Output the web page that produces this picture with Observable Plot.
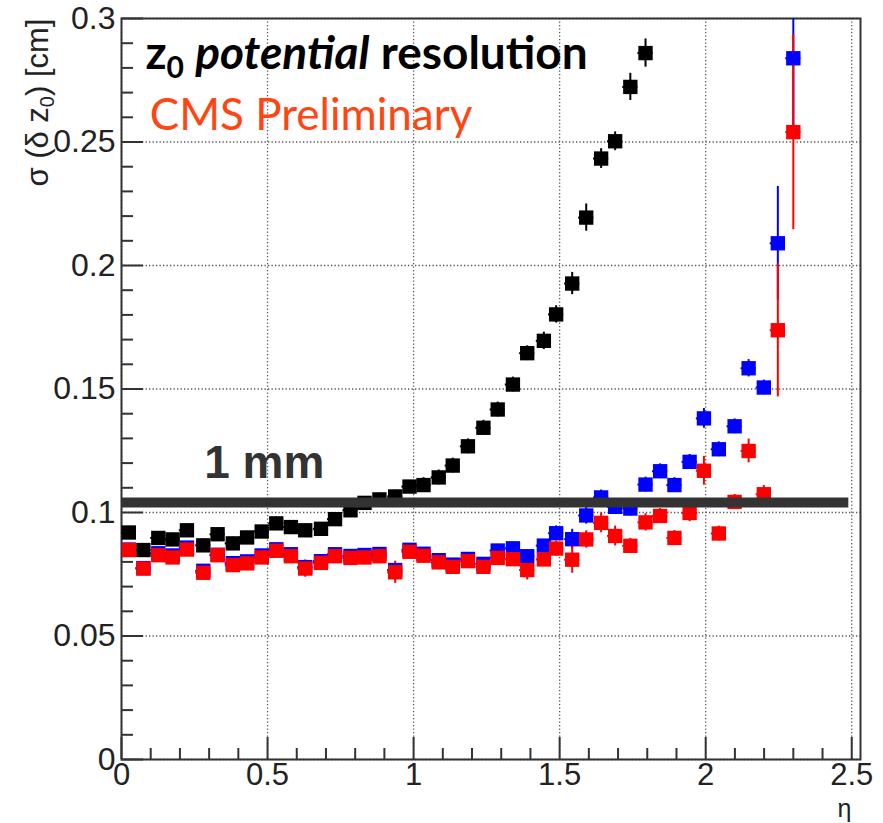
<!DOCTYPE html>
<html><head><meta charset="utf-8">
<script src="https://cdn.jsdelivr.net/npm/d3@7"></script>
<script src="https://cdn.jsdelivr.net/npm/@observablehq/plot@0.6"></script>
<style>body{margin:0;background:#fff;} svg{display:block}</style>
</head><body><div id="chart"></div>
<script>
// bin centres in eta
const eta = [0.025,0.075,0.126,0.175,0.224,0.280,0.329,0.381,0.430,0.480,
             0.530,0.580,0.629,0.683,0.731,0.784,0.832,0.883,0.937,0.986,
             1.034,1.086,1.134,1.186,1.239,1.288,1.340,1.389,1.446,1.488,
             1.543,1.591,1.642,1.690,1.742,1.794,1.844,1.893,1.945,1.994,
             2.045,2.099,2.147,2.199,2.247,2.300];
// black series (36 bins)
const blackRes = [0.0919,0.0848,0.0897,0.0891,0.0928,0.0867,0.0912,0.0875,0.0899,0.0923,
                  0.0956,0.0941,0.0928,0.0934,0.0973,0.1009,0.1039,0.1053,0.1065,0.1105,
                  0.1111,0.1142,0.1190,0.1268,0.1343,0.1417,0.1518,0.1645,0.1695,0.1802,
                  0.1927,0.2194,0.2433,0.2503,0.2723,0.2860];
const blackErr = [0.0025,0.0025,0.0025,0.0025,0.0025,0.0025,0.0025,0.0025,0.0025,0.0025,
                  0.0025,0.0025,0.0025,0.0025,0.0025,0.0025,0.0025,0.0025,0.0025,0.0025,
                  0.003,0.003,0.003,0.003,0.003,0.003,0.003,0.003,0.0035,0.0035,
                  0.0045,0.0055,0.004,0.0038,0.0055,0.0057];
const blueRes = [0.0850,0.0775,0.0835,0.0826,0.0858,0.0764,0.0829,0.0795,0.0802,0.0826,
                 0.0851,0.0831,0.0779,0.0803,0.0831,0.0824,0.0828,0.0832,0.0767,0.0849,
                 0.0833,0.0807,0.0789,0.0812,0.0792,0.0846,0.0855,0.0823,0.0866,0.0916,
                 0.0892,0.0988,0.1061,0.1023,0.1016,0.1113,0.1167,0.1111,0.1205,0.1381,
                 0.1256,0.1349,0.1584,0.1506,0.2090,0.2839];
const blueErr = [0.0025,0.0025,0.0025,0.0025,0.0025,0.0025,0.0025,0.0025,0.0025,0.0025,
                 0.0025,0.0025,0.0025,0.0025,0.0025,0.0025,0.0025,0.0025,0.0025,0.0025,
                 0.0025,0.0025,0.0025,0.0025,0.0025,0.0025,0.0025,0.0025,0.0025,0.003,
                 0.004,0.0035,0.003,0.003,0.003,0.003,0.003,0.003,0.003,0.004,
                 0.003,0.003,0.0035,0.003,0.023,0.030];
const redRes = [0.0848,0.0773,0.0827,0.0818,0.0850,0.0756,0.0827,0.0787,0.0794,0.0818,
                0.0845,0.0823,0.0773,0.0796,0.0823,0.0816,0.0818,0.0823,0.0758,0.0841,
                0.0825,0.0798,0.0780,0.0803,0.0780,0.0816,0.0811,0.0767,0.0810,0.0854,
                0.0809,0.0891,0.0958,0.0905,0.0865,0.0960,0.0986,0.0897,0.0998,0.1169,
                0.0915,0.1043,0.1249,0.1074,0.1738,0.2540];
const redErr = [0.0025,0.0025,0.0025,0.0025,0.0025,0.003,0.0025,0.0025,0.0025,0.0025,
                0.0025,0.0025,0.0035,0.0025,0.0025,0.003,0.003,0.003,0.0045,0.0025,
                0.0025,0.0025,0.0025,0.0025,0.0025,0.0025,0.0025,0.004,0.0025,0.003,
                0.0055,0.0035,0.004,0.004,0.003,0.0035,0.003,0.003,0.0035,0.0058,
                0.003,0.003,0.0048,0.0035,0.027,0.0395];

const xMajorTicks = [0, 0.5, 1, 1.5, 2, 2.5];
const xTickLabels = ["0", "0.5", "1", "1.5", "2", "2.5"];
const xMinorTicks = [0.1,0.2,0.3,0.4,0.6,0.7,0.8,0.9,1.1,1.2,1.3,1.4,1.6,1.7,1.8,1.9,2.1,2.2,2.3,2.4];
const yMajorTicks = [0, 0.05, 0.1, 0.15, 0.2, 0.25, 0.3];
const yTickLabels = ["0", "0.05", "0.1", "0.15", "0.2", "0.25", "0.3"];
const yMinorTicks = [0.01,0.02,0.03,0.04,0.06,0.07,0.08,0.09,0.11,0.12,0.13,0.14,0.16,0.17,0.18,0.19,0.21,0.22,0.23,0.24,0.26,0.27,0.28,0.29];

const mmLine = [{y: 0.104, x1: 0, x2: 2.49}];
const mmLabel = [{x: 0.283, y: 0.1139, text: "1 mm"}];
const titleLabel = [{x: 0.082, y: 0.2795, text: "z0 potential resolution"}];
const cmsLabel = [{x: 0.097, y: 0.2548, text: "CMS Preliminary"}];
const yTitle = "σ (δ z0) [cm]";
const xTitle = "η";

const binHalf = 0.026;
function rows(vals, errs) {
  return vals.map((v, i) => ({x: eta[i], y: v, lo: v - errs[i], hi: v + errs[i], xl: eta[i] - binHalf, xh: eta[i] + binHalf}));
}
const black = rows(blackRes, blackErr);
const blue = rows(blueRes, blueErr);
const red = rows(redRes, redErr);

const xLab = new Map(xMajorTicks.map((d, i) => [d, xTickLabels[i]]));
const yLab = new Map(yMajorTicks.map((d, i) => [d, yTickLabels[i]]));
const axisFont = "'Liberation Sans Narrow', 'Liberation Sans', Arial, sans-serif";
const COL = {black: "#000000", blue: "#0000ff", red: "#ff0000"};
const msize = 8.1;

function errMarks(data, color) {
  return [
    Plot.ruleX(data, {x: "x", y1: "lo", y2: "hi", stroke: color, strokeWidth: 2, clip: true}),
    Plot.ruleY(data, {y: "y", x1: "xl", x2: "xh", stroke: color, strokeWidth: 2, clip: true})
  ];
}
function dotMarks(data, color) {
  return Plot.dot(data, {x: "x", y: "y", symbol: "square", r: msize, fill: color, stroke: "none", clip: true});
}

const grid = {stroke: "#555", strokeOpacity: 1, strokeWidth: 1.3, strokeDasharray: "1.3,2.2"};

const chart = Plot.plot({
  width: 883, height: 823,
  marginLeft: 121, marginRight: 23, marginTop: 18, marginBottom: 64,
  x: {domain: [0, 2.53], label: null},
  y: {domain: [0, 0.3], label: null},
  style: {fontFamily: axisFont, background: "white", color: "#222"},
  marks: [
    Plot.gridX(xMajorTicks, grid),
    Plot.gridY(yMajorTicks, grid),
    Plot.axisX(xMajorTicks, {tickSize: -22, fill: "none", strokeWidth: 2, stroke: "#333"}),
    Plot.axisX(xMinorTicks, {tickSize: -11, fill: "none", strokeWidth: 2, stroke: "#333"}),
    Plot.axisX(xMajorTicks, {tickSize: 0, tickPadding: 3, tickFormat: d => xLab.get(d), fontSize: 31, fill: "#222"}),
    Plot.axisY(yMajorTicks, {tickSize: -22, fill: "none", strokeWidth: 2, stroke: "#333"}),
    Plot.axisY(yMinorTicks, {tickSize: -12, fill: "none", strokeWidth: 2, stroke: "#333"}),
    Plot.axisY(yMajorTicks, {tickSize: 0, tickPadding: 6, tickFormat: d => yLab.get(d), fontSize: 32, fill: "#222"}),
    Plot.frame({stroke: "#333", strokeWidth: 2}),
    ...errMarks(black, COL.black),
    ...errMarks(blue, COL.blue),
    ...errMarks(red, COL.red),
    dotMarks(black, COL.black),
    dotMarks(blue, COL.blue),
    dotMarks(red, COL.red),
    Plot.ruleY(mmLine, {y: "y", x1: "x1", x2: "x2", stroke: "#333", strokeWidth: 10}),
    Plot.text(mmLabel, {x: "x", y: "y", text: "text", textAnchor: "start", lineAnchor: "bottom",
      fontSize: 46, fontWeight: "bold", fill: "#333", fontFamily: "'Liberation Sans', Arial, sans-serif"}),
    Plot.text(titleLabel, {x: "x", y: "y", text: "text", textAnchor: "start", lineAnchor: "bottom",
      fontSize: 46, fontWeight: "bold", fill: "#000", fontFamily: "Lato, 'Open Sans', sans-serif"}),
    Plot.text(cmsLabel, {x: "x", y: "y", text: "text", textAnchor: "start", lineAnchor: "bottom",
      fontSize: 44, fill: "#ff4512", fontFamily: "Lato, 'Open Sans', sans-serif"}),
    Plot.text([yTitle], {frameAnchor: "top-left", dx: -83, rotate: -90, textAnchor: "end", lineAnchor: "middle",
      fontSize: 31, fill: "#222", fontFamily: "'Liberation Sans', Arial, sans-serif"}),
    Plot.text([xTitle], {frameAnchor: "bottom-right", dx: -9, dy: 57, textAnchor: "end", lineAnchor: "bottom",
      fontSize: 25, fill: "#222", fontFamily: "'Liberation Sans', Arial, sans-serif"})
  ]
});

function rich(svg, match, parts) {
  d3.select(svg).selectAll("text").filter(function () { return this.textContent === match; }).each(function () {
    const t = d3.select(this);
    t.text(null);
    for (const p of parts) {
      const ts = t.append("tspan").text(p.t);
      if (p.a) for (const k in p.a) ts.attr(k, p.a[k]);
    }
  });
}
rich(chart, titleLabel[0].text, [
  {t: "z"},
  {t: "0", a: {dy: 9, "font-size": 30}},
  {t: " ", a: {dy: -9}},
  {t: "potential", a: {"font-style": "italic"}},
  {t: " resolution"}
]);
rich(chart, yTitle, [
  {t: "σ (δ z"},
  {t: "0", a: {dy: 6, "font-size": 20}},
  {t: ") [cm]", a: {dy: -6}}
]);
document.getElementById("chart").appendChild(chart);
</script>
</body></html>
